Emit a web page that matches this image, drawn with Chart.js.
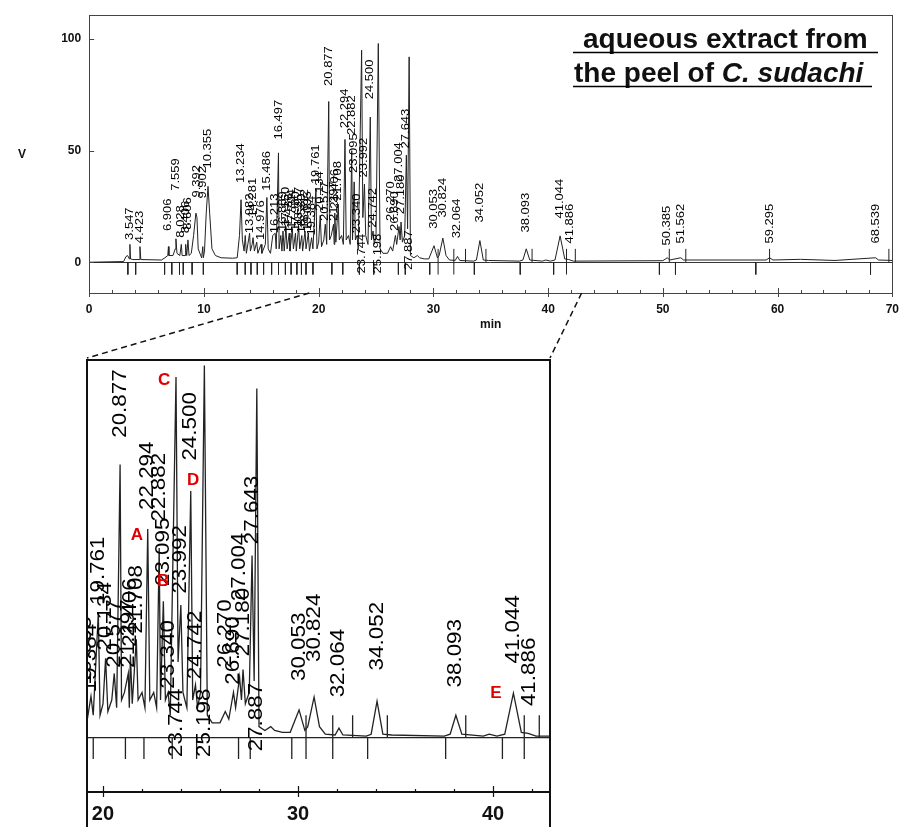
<!DOCTYPE html>
<html>
<head>
<meta charset="utf-8">
<script src="https://cdn.jsdelivr.net/npm/chart.js@4.4.1/dist/chart.umd.min.js"></script>
<style>
    body { margin: 0; background: #fff; }
    #wrap { position: relative; width: 908px; height: 827px; overflow: hidden; background: #fff; }
    #topChart { position: absolute; left: 0; top: 0; }
    #zoomChart { position: absolute; left: 0; top: 290px; }
</style>
</head>
<body>
<div id="wrap">
    <canvas id="topChart" width="908" height="345"></canvas>
    <canvas id="zoomChart" width="908" height="537"></canvas>
</div>
<script>
// chromatogram trace, [min, V]
const traceEarly = [
    [0, 0], [3.0, 0.3], [3.2, 2.5], [3.35, 3], [3.5, 1.5], [3.547, 8], [3.6, 1.5], [3.8, 1.2],
    [4.35, 1.2], [4.423, 7], [4.5, 1.2], [6.3, 1], [6.6, 2], [6.85, 3], [6.906, 7], [6.95, 3],
    [7.3, 3], [7.5, 6], [7.559, 10.5], [7.65, 4], [7.9, 3], [8.028, 8], [8.1, 3], [8.35, 3],
    [8.406, 8], [8.5, 3], [8.606, 10], [8.7, 3], [8.9, 4], [9.1, 12], [9.3, 22], [9.392, 20],
    [9.5, 6], [9.8, 2], [9.902, 7], [9.95, 2], [10.05, 5], [10.2, 22], [10.355, 34], [10.5, 22],
    [10.7, 6], [11.0, 3], [11.5, 2], [12.5, 1.8]
];
const traceMid = [
    [12.9, 2], [13.1, 12], [13.234, 28], [13.35, 10], [13.5, 5], [13.6, 12], [13.7, 4], [13.982, 13],
    [14.05, 5], [14.2, 8], [14.281, 11], [14.4, 5], [14.6, 9], [14.7, 4], [14.976, 8], [15.05, 4],
    [15.35, 8], [15.486, 29], [15.6, 6], [15.8, 4], [16.0, 12], [16.213, 13], [16.3, 6], [16.497, 49],
    [16.55, 6], [16.7, 12], [16.8, 5], [16.889, 14], [17.0, 5], [17.15, 16], [17.25, 6], [17.436, 13],
    [17.5, 5], [17.704, 15], [17.8, 6], [17.98, 13], [18.05, 5], [18.257, 16], [18.35, 6], [18.53, 12],
    [18.6, 5], [18.812, 14], [18.9, 6], [19.095, 13], [19.2, 5], [19.384, 11], [19.5, 6], [19.761, 33],
    [19.85, 6], [20.0, 9], [20.134, 21], [20.25, 7], [20.45, 10], [20.577, 17], [20.7, 8], [20.877, 72],
    [20.95, 10], [21.1, 12], [21.297, 17], [21.35, 8], [21.406, 22], [21.5, 9], [21.708, 26], [21.8, 10],
    [22.0, 12], [22.15, 8], [22.294, 55], [22.4, 10], [22.6, 12], [22.75, 8], [22.882, 50], [22.95, 10],
    [23.095, 36], [23.2, 10], [23.34, 12], [23.45, 6], [23.744, 95], [23.85, 20], [23.992, 35], [24.1, 12],
    [24.3, 8], [24.5, 65], [24.6, 10], [24.742, 14], [24.85, 8], [25.0, 12], [25.198, 98], [25.35, 6],
    [25.6, 4], [26.0, 4], [26.27, 7], [26.45, 5], [26.69, 12], [26.8, 8], [27.004, 16], [27.1, 10],
    [27.18, 18], [27.3, 9], [27.5, 12], [27.643, 48], [27.75, 15], [27.887, 92], [28.0, 3], [28.3, 2]
];
const traceLate = [
    [28.6, 3], [28.8, 2], [29.2, 1.5], [29.6, 1.5], [30.053, 7.4], [30.35, 2], [30.5, 3], [30.824, 10.8],
    [31.1, 3], [31.4, 1], [31.9, 0.8], [32.1, 2.6], [32.3, 0.8], [33.5, 0.5], [33.75, 1], [34.052, 9.7],
    [34.35, 1], [34.8, 0.8], [37.5, 0.5], [37.8, 1], [38.093, 6], [38.4, 1], [39.5, 0.5], [39.8, 1],
    [40.2, 0.5], [40.6, 1], [41.044, 11.8], [41.45, 1.5], [41.8, 1.2], [42.2, 0.5], [50.0, 0.7], [50.385, 2],
    [50.6, 1], [51.562, 2], [51.8, 1], [59.0, 1], [59.295, 2], [59.6, 1], [62, 1.3], [65, 0.8],
    [68.539, 2], [68.8, 1], [70, 0.8]
];

// retention time labels and the level (V) where each printed label starts
const peakLabels = ['3.547', '4.423', '6.906', '7.559', '8.028', '8.406', '8.606', '9.392', '9.902', '10.355',
    '13.234', '13.982', '14.281', '14.976', '15.486', '16.213', '16.497', '16.889', '17.150', '17.436',
    '17.704', '17.980', '18.257', '18.530', '18.812', '19.095', '19.384', '19.761', '20.134', '20.577',
    '20.877', '21.297', '21.406', '21.708', '22.294', '22.882', '23.095', '23.340', '23.744', '23.992',
    '24.500', '24.742', '25.198', '26.270', '26.690', '27.004', '27.180', '27.643', '27.887', '30.053',
    '30.824', '32.064', '34.052', '38.093', '41.044', '41.886', '50.385', '51.562', '59.295', '68.539'];
const peakLabelBase = [10, 8.5, 14, 32, 11, 13, 14.5, 29, 28.5, 42,
    35.5, 13, 20, 10, 32, 13, 55, 14, 16, 13,
    15, 14, 16, 13, 15, 14, 12, 35, 23, 18.5,
    79, 18.5, 24, 27.5, 60, 57, 40, 13, -5, 38,
    73, 15.5, -5, 18.5, 14, 36, 21.5, 51, -3.5, 15,
    20, 10.7, 17.8, 13.3, 19.6, 8.4, 7.5, 8.4, 8.4, 8.4];

// integration marks (min)
const marksDown = [3.37, 4.05, 6.57, 7.2, 7.87, 8.2, 8.97, 9.95, 12.9, 13.6, 14.1, 14.65, 15.2, 15.9,
    16.5, 17.1, 17.6, 18.1, 18.5, 18.9, 19.5, 21.15, 22.1, 23.55, 24.8, 26.95, 27.55,
    29.68, 33.57, 37.57, 40.48, 49.7, 51.1, 58.1, 68.1];
const marksUp = [32.8, 34.58, 38.6, 42.37, 50.56, 52.0, 59.3, 69.7];
const marksCross = [30.41, 31.78, 41.6];

// red peak letters in the enlarged part
const letters = ['A', 'B', 'C', 'D', 'E'];
const letterTimes = [21.74, 23.08, 23.13, 24.62, 40.15];
const letterValues = [53.4, 41.3, 94.2, 67.9, 11.8];

const topXTicks = [0, 10, 20, 30, 40, 50, 60, 70];
const topYTicks = [0, 50, 100];
const zoomXTicks = [20, 30, 40];
const zoomRange = [19.18, 42.92];

const font = 'Arial, "Liberation Sans", sans-serif';

function tracePoints() {
    return traceEarly.concat(traceMid, traceLate).map(p => ({ x: p[0], y: p[1] }));
}

function markPoints() {
    const pts = [];
    marksDown.forEach(t => pts.push({ x: t, y: 0 }, { x: t, y: -5.5 }, { x: t, y: null }));
    marksUp.forEach(t => pts.push({ x: t, y: 0 }, { x: t, y: 6 }, { x: t, y: null }));
    marksCross.forEach(t => pts.push({ x: t, y: -5.5 }, { x: t, y: 6 }, { x: t, y: null }));
    return pts;
}

function datasets(width) {
    return [
        { data: tracePoints(), borderColor: '#222', borderWidth: width, pointRadius: 0, tension: 0 },
        { data: markPoints(), borderColor: '#222', borderWidth: width, pointRadius: 0, spanGaps: false }
    ];
}

// vertical retention time labels
function drawPeakLabels(chart, size, stretch) {
    const { ctx, chartArea: a, scales: { x, y } } = chart;
    ctx.save();
    ctx.beginPath();
    ctx.rect(a.left, a.top, a.width, a.height);
    ctx.clip();
    ctx.fillStyle = '#000';
    ctx.font = size + 'px ' + font;
    ctx.textAlign = 'left';
    ctx.textBaseline = 'middle';
    peakLabels.forEach((txt, i) => {
        ctx.save();
        ctx.translate(x.getPixelForValue(parseFloat(txt)), y.getPixelForValue(peakLabelBase[i]));
        ctx.rotate(-Math.PI / 2);
        ctx.scale(stretch, 1);
        ctx.fillText(txt, 0, 0);
        ctx.restore();
    });
    ctx.restore();
}

function drawXTicks(chart, from, to, major, up) {
    const { ctx, chartArea: a, scales: { x } } = chart;
    ctx.beginPath();
    for (let t = from; t <= to; t += 2) {
        const px = Math.round(x.getPixelForValue(t)) + 0.5;
        const isMajor = t % 10 === 0;
        ctx.moveTo(px, a.bottom + (isMajor ? major : 0));
        ctx.lineTo(px, a.bottom - (isMajor ? up : 3));
    }
    ctx.stroke();
}

const topDecor = {
    id: 'topDecor',
    afterDatasetsDraw(chart) {
        const { ctx, chartArea: a, scales: { x, y } } = chart;
        drawPeakLabels(chart, 11, 1.18);

        ctx.save();
        ctx.strokeStyle = '#444';
        ctx.lineWidth = 1;
        ctx.strokeRect(Math.round(a.left) + 0.5, Math.round(a.top) + 0.5, Math.round(a.width), Math.round(a.height));
        drawXTicks(chart, 0, 70, 4, 5);
        ctx.beginPath();
        topYTicks.forEach(v => {
            const py = Math.round(y.getPixelForValue(v)) + 0.5;
            ctx.moveTo(a.left, py);
            ctx.lineTo(a.left + 5, py);
        });
        ctx.stroke();

        ctx.fillStyle = '#111';
        ctx.font = 'bold 12px ' + font;
        ctx.textAlign = 'center';
        ctx.textBaseline = 'middle';
        ctx.fillText('min', x.getPixelForValue(35), a.bottom + 32);
        ctx.fillText('V', 22, y.getPixelForValue(48));

        // title
        ctx.textAlign = 'left';
        ctx.textBaseline = 'alphabetic';
        ctx.font = 'bold 28px ' + font;
        ctx.fillText('aqueous extract from', 583, 48);
        ctx.fillText('the peel of ', 574, 82);
        const w = ctx.measureText('the peel of ').width;
        ctx.font = 'italic bold 28px ' + font;
        ctx.fillText('C. sudachi', 574 + w, 82);
        ctx.strokeStyle = '#000';
        ctx.lineWidth = 1.5;
        ctx.beginPath();
        ctx.moveTo(573, 52.5);
        ctx.lineTo(878, 52.5);
        ctx.moveTo(573, 86.5);
        ctx.lineTo(872, 86.5);
        ctx.stroke();
        ctx.restore();
    }
};

const topChart = new Chart(document.getElementById('topChart'), {
    type: 'line',
    data: { datasets: datasets(1) },
    options: {
        responsive: false,
        animation: false,
        devicePixelRatio: 1,
        layout: { padding: { top: 13, right: 11, left: 0, bottom: 0 } },
        plugins: { legend: { display: false }, tooltip: { enabled: false } },
        scales: {
            x: {
                type: 'linear', min: 0, max: 70,
                afterBuildTicks: s => { s.ticks = topXTicks.map(v => ({ value: v })); },
                afterFit: s => { s.height = 52; },
                grid: { display: false, drawTicks: false },
                border: { display: false },
                ticks: { padding: 9, maxRotation: 0, color: '#111', font: { size: 12, weight: 'bold', family: font } }
            },
            y: {
                min: -13.78, max: 110.67,
                afterBuildTicks: s => { s.ticks = topYTicks.map(v => ({ value: v })); },
                afterFit: s => { s.width = 89.2; },
                grid: { drawTicks: false, lineWidth: 1, color: c => (c.tick && c.tick.value === 0 ? '#333' : 'rgba(0,0,0,0)') },
                border: { display: false },
                ticks: { padding: 8, color: '#111', font: { size: 12, weight: 'bold', family: font } }
            }
        }
    },
    plugins: [topDecor]
});

const zoomDecor = {
    id: 'zoomDecor',
    afterDatasetsDraw(chart) {
        const { ctx, chartArea: a, scales: { x, y } } = chart;
        drawPeakLabels(chart, 20, 1.12);

        ctx.save();
        ctx.fillStyle = '#e00000';
        ctx.font = 'bold 17px ' + font;
        ctx.textAlign = 'center';
        ctx.textBaseline = 'middle';
        letters.forEach((l, i) => {
            ctx.fillText(l, x.getPixelForValue(letterTimes[i]), y.getPixelForValue(letterValues[i]));
        });

        // frame of the enlarged part, open at the bottom of the page
        ctx.strokeStyle = '#111';
        ctx.lineWidth = 2;
        ctx.beginPath();
        ctx.moveTo(a.left, chart.height);
        ctx.lineTo(a.left, a.top);
        ctx.lineTo(a.right, a.top);
        ctx.lineTo(a.right, chart.height);
        ctx.moveTo(a.left, a.bottom);
        ctx.lineTo(a.right, a.bottom);
        ctx.stroke();
        ctx.lineWidth = 1.2;
        drawXTicks(chart, 20, 42, 5, 6);

        // dashed lines back to the full chromatogram
        const top = topChart.scales.x;
        const yTop = topChart.chartArea.bottom - 290;
        ctx.lineWidth = 1.5;
        ctx.setLineDash([6, 4]);
        ctx.beginPath();
        ctx.moveTo(top.getPixelForValue(zoomRange[0]), yTop);
        ctx.lineTo(a.left, a.top - 2);
        ctx.moveTo(top.getPixelForValue(zoomRange[1]), yTop);
        ctx.lineTo(a.right, a.top - 2);
        ctx.stroke();
        ctx.restore();
    }
};

new Chart(document.getElementById('zoomChart'), {
    type: 'line',
    data: { datasets: datasets(1.3) },
    options: {
        responsive: false,
        animation: false,
        devicePixelRatio: 1,
        layout: { padding: { top: 70, right: 358, left: 0, bottom: 0 } },
        plugins: { legend: { display: false }, tooltip: { enabled: false } },
        scales: {
            x: {
                type: 'linear', min: zoomRange[0], max: zoomRange[1],
                afterBuildTicks: s => { s.ticks = zoomXTicks.map(v => ({ value: v })); },
                afterFit: s => { s.height = 35; },
                grid: { display: false, drawTicks: false },
                border: { display: false },
                ticks: { padding: 10, maxRotation: 0, color: '#111', font: { size: 20, weight: 'bold', family: font } }
            },
            y: {
                min: -14.2, max: 99.47,
                afterBuildTicks: s => { s.ticks = [{ value: 0 }]; },
                afterFit: s => { s.width = 87; },
                grid: { drawTicks: false, lineWidth: 1.2, color: '#222' },
                border: { display: false },
                ticks: { display: false }
            }
        }
    },
    plugins: [zoomDecor]
});
</script>
</body>
</html>
